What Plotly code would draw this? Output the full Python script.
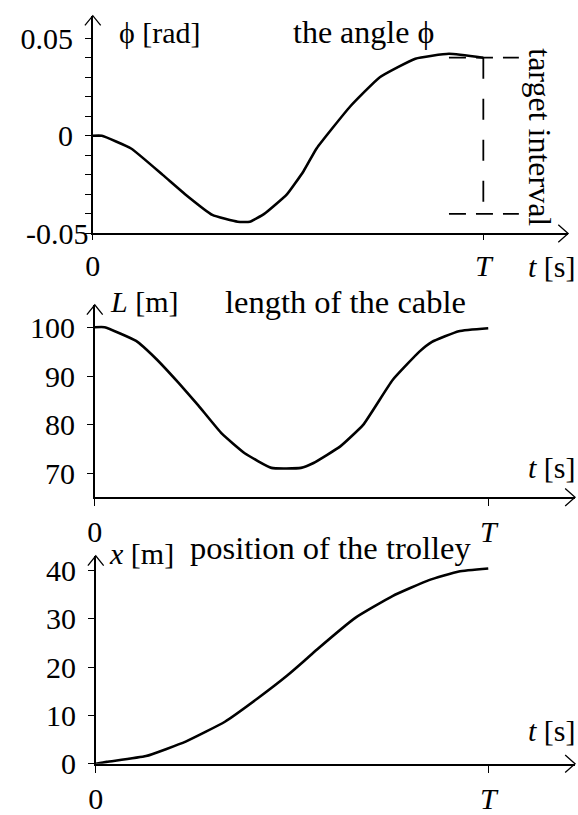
import plotly.graph_objects as go

# ---- data (time normalised to the final time T = 1) ----
t_phi = [0, 0.023, 0.098, 0.179, 0.237, 0.306, 0.371, 0.402, 0.439, 0.497, 0.540,
         0.573, 0.659, 0.735, 0.826, 0.912, 1.0]
phi = [0, 0, -0.0065, -0.020, -0.030, -0.0405, -0.044, -0.044, -0.040, -0.030,
       -0.018, -0.0065, 0.015, 0.030, 0.0395, 0.042, 0.040]

t_len = [0, 0.025, 0.105, 0.155, 0.213, 0.263, 0.323, 0.381, 0.449, 0.524, 0.556,
         0.624, 0.682, 0.757, 0.825, 0.857, 0.925, 1.0]
cable_len = [100, 100, 97.2, 93.6, 88.6, 84, 78.2, 74.2, 71.2, 71.2, 72.2,
             75.6, 80, 89.2, 95, 97, 99.2, 99.8]

t_pos = [0, 0.028, 0.128, 0.229, 0.329, 0.412, 0.487, 0.530, 0.563, 0.663,
         0.756, 0.849, 0.925, 1.0]
trolley_pos = [0, 0.4, 1.6, 4.6, 8.7, 13.5, 18.2, 21.2, 23.6, 30.3, 34.7,
               38.0, 39.8, 40.4]

target_lo, target_hi = -0.04, 0.04
target_t = [0.912, 1.091]

x_tickvals = [0, 1]
x_ticktext = ["0", "<i>T</i>"]
phi_ticks = [-0.05, 0, 0.05]
phi_ticktext = ["", "0", "0.05"]   # the bottom label is placed separately
phi_bottom_label = "-0.05"
phi_minor = [-0.04, -0.03, -0.02, -0.01, 0.01, 0.02, 0.03, 0.04]
len_ticks = [70, 80, 90, 100]
pos_ticks = [0, 10, 20, 30, 40]

# ---- layout helpers ----
W, H = 578, 815
FONT = "Liberation Serif"


def px(x):
    return x / W


def py(y):
    return 1 - y / H


def axis_common():
    return dict(showline=True, linecolor="black", linewidth=1.5, ticks="outside",
                ticklen=6, tickwidth=1.2, tickcolor="black", showgrid=False,
                zeroline=False, fixedrange=True,
                tickfont=dict(family=FONT, size=30, color="black"))


fig = go.Figure()
line_style = dict(color="black", width=2.6, shape="spline", smoothing=0.4)
fig.add_trace(go.Scatter(x=t_phi, y=phi, mode="lines", line=line_style,
                         xaxis="x", yaxis="y", hoverinfo="skip"))
fig.add_trace(go.Scatter(x=t_len, y=cable_len, mode="lines", line=line_style,
                         xaxis="x2", yaxis="y2", hoverinfo="skip"))
fig.add_trace(go.Scatter(x=t_pos, y=trolley_pos, mode="lines", line=line_style,
                         xaxis="x3", yaxis="y3", hoverinfo="skip"))

# panel geometry in pixels: (left, right, top, bottom)
panels = [(86, 568, 14, 237), (88, 575, 310, 507), (89, 575, 567, 780)]
x_ranges = [[0, 1.2172], [0, 1.2206], [0, 1.2211]]
y_ranges = [[-0.05, 0.0615], [65.2, 104.6], [0, 43.03]]

layout = dict(width=W, height=H, margin=dict(l=0, r=0, t=0, b=0),
              paper_bgcolor="white", plot_bgcolor="white", showlegend=False)

for i, ((l, r, t, b), xr, yr) in enumerate(zip(panels, x_ranges, y_ranges)):
    sx = "" if i == 0 else str(i + 1)
    xa = axis_common()
    xa.update(domain=[px(l), px(r)], range=xr, tickvals=x_tickvals,
              ticktext=x_ticktext, anchor="y" + sx, ticklen=7)
    ya = axis_common()
    ya.update(domain=[py(b), py(t)], range=yr, anchor="x" + sx,
              ticklabelstandoff=6)
    layout["xaxis" + sx] = xa
    layout["yaxis" + sx] = ya

layout["xaxis"].update(ticklen=5)
layout["yaxis"].update(tickvals=phi_ticks, ticktext=phi_ticktext,
                       minor=dict(tickvals=phi_minor, ticks="outside", ticklen=6,
                                  tickwidth=1.2, tickcolor="black", showgrid=False))
layout["yaxis2"].update(tickvals=len_ticks)
layout["yaxis3"].update(tickvals=pos_ticks)

fig.update_layout(**layout)

# ---- arrow heads on the axes ----
shapes = []
for (l, r, t, b) in panels:
    shapes.append(dict(type="path", xref="paper", yref="paper",
                       path=f"M{px(l - 8)},{py(t + 10)} L{px(l)},{py(t)} L{px(l + 8)},{py(t + 10)}",
                       line=dict(color="black", width=1.3)))
    shapes.append(dict(type="path", xref="paper", yref="paper",
                       path=f"M{px(r - 10)},{py(b - 9)} L{px(r)},{py(b)} L{px(r - 10)},{py(b + 9)}",
                       line=dict(color="black", width=1.3)))

# ---- target interval (dashed) ----
hdash = dict(color="black", width=1.8, dash="17px,10px")
vdash = dict(color="black", width=1.8, dash="21px,20px")
shapes.append(dict(type="line", xref="x", yref="y", x0=target_t[0], x1=target_t[1],
                   y0=target_hi, y1=target_hi, line=hdash))
shapes.append(dict(type="line", xref="x", yref="y", x0=target_t[0], x1=target_t[1],
                   y0=target_lo, y1=target_lo, line=hdash))
shapes.append(dict(type="line", xref="x", yref="y", x0=1, x1=1,
                   y0=target_hi, y1=target_lo, line=vdash))
fig.update_layout(shapes=shapes)

# ---- text labels ----
def label(text, x, y, size=30, angle=0, xanchor="center"):
    fig.add_annotation(text=text, x=px(x), y=py(y), xref="paper", yref="paper",
                       showarrow=False, xanchor=xanchor, yanchor="middle",
                       textangle=angle, font=dict(family=FONT, size=size, color="black"))


# bottom label of the angle axis, tucked against the axis corner
label(phi_bottom_label, 84, 237, xanchor="right")

label("ϕ [rad]", 154, 31)
label("the angle ϕ", 360, 31, size=32)
label("target interval", 540, 138, size=32, angle=90)
label("<i>t</i> [s]", 552, 271)
label("<i>L</i> [m]", 138, 307)
label("length of the cable", 342, 307, size=32.5)
label("<i>t</i> [s]", 552, 477)
label("<i>x</i> [m]", 135, 565)
label("position of the trolley", 327, 559, size=32.5)
label("<i>t</i> [s]", 552, 746)

fig.write_html("out.html", config={"displayModeBar": False})
